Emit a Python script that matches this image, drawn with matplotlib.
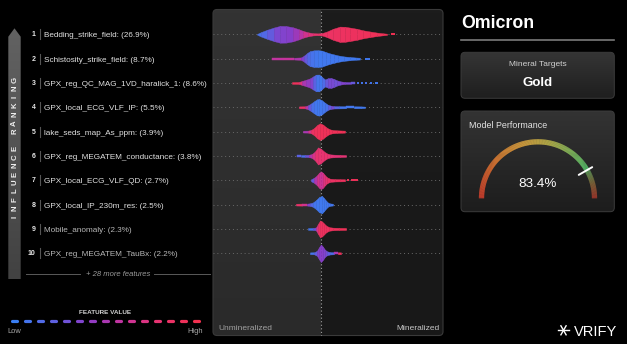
import numpy as np
import matplotlib
matplotlib.use('Agg')
import matplotlib.pyplot as plt
from matplotlib.colors import LinearSegmentedColormap, to_rgb
from matplotlib.patches import FancyBboxPatch, Polygon
from matplotlib.collections import LineCollection

plt.rcParams['font.family'] = ['Liberation Sans', 'DejaVu Sans']

# ── data ─────────────────────────────────────────────────────────────────────
FEATURES = ['Bedding_strike_field', 'Schistosity_strike_field',
            'GPX_reg_QC_MAG_1VD_haralick_1', 'GPX_local_ECG_VLF_IP',
            'lake_seds_map_As_ppm', 'GPX_reg_MEGATEM_conductance',
            'GPX_local_ECG_VLF_QD', 'GPX_local_IP_230m_res',
            'Mobile_anomaly', 'GPX_reg_MEGATEM_TauBx']
IMPORTANCE = [26.9, 8.7, 8.6, 5.5, 3.9, 3.8, 2.7, 2.5, 2.3, 2.2]
N_MORE = 28

# violin outline per feature: SHAP value, density (half width), mean feature value
SHAP_X = [
    [-0.64, -0.60, -0.54, -0.47, -0.41, -0.35, -0.28, -0.22, -0.18, -0.13, -0.08, -0.03,
     0.01, 0.06, 0.12, 0.19, 0.24, 0.29, 0.36, 0.42, 0.49, 0.56, 0.62, 0.66],
    [-0.49, -0.38, -0.27, -0.20, -0.17, -0.14, -0.11, -0.07, -0.03, 0.01, 0.05, 0.09,
     0.13, 0.17, 0.23, 0.29, 0.35, 0.39],
    [-0.29, -0.22, -0.19, -0.15, -0.11, -0.08, -0.05, -0.02, 0.01, 0.04, 0.07, 0.10,
     0.13, 0.16, 0.20, 0.24, 0.30, 0.34],
    [-0.22, -0.16, -0.13, -0.10, -0.07, -0.04, -0.02, 0.01, 0.04, 0.07, 0.10, 0.13,
     0.18, 0.25, 0.33, 0.40, 0.44],
    [-0.18, -0.13, -0.10, -0.07, -0.04, -0.01, 0.02, 0.05, 0.08, 0.11, 0.16, 0.21, 0.24],
    [-0.24, -0.20, -0.16, -0.12, -0.09, -0.06, -0.03, 0.00, 0.03, 0.06, 0.09, 0.13, 0.19, 0.25],
    [-0.10, -0.07, -0.04, -0.02, 0.00, 0.02, 0.04, 0.06, 0.09, 0.14, 0.19, 0.24],
    [-0.25, -0.19, -0.14, -0.11, -0.08, -0.05, -0.02, 0.01, 0.03, 0.05, 0.07, 0.09, 0.12],
    [-0.13, -0.08, -0.05, -0.03, -0.01, 0.01, 0.03, 0.05, 0.08, 0.12, 0.18, 0.25],
    [-0.11, -0.07, -0.04, -0.02, 0.00, 0.02, 0.04, 0.06, 0.09, 0.13, 0.17, 0.20],
]
DENSITY = [
    [0.3, 2.2, 4.5, 6.8, 8.4, 8.3, 7.0, 5.0, 3.4, 2.0, 1.1, 0.9,
     1.2, 2.8, 5.5, 7.7, 7.5, 6.7, 5.5, 4.0, 2.8, 1.7, 1.0, 0.6],
    [0.9, 0.9, 0.9, 1.2, 3.0, 5.5, 7.5, 8.3, 8.4, 8.0, 6.5, 5.2, 4.2, 3.2, 2.2, 1.6, 1.1, 0.9],
    [0.9, 1.0, 2.0, 3.2, 4.6, 6.5, 8.3, 8.4, 6.0, 3.5, 4.8, 5.0, 4.0, 2.6, 1.5, 1.0, 0.9, 0.9],
    [0.9, 1.0, 2.0, 3.8, 6.0, 8.0, 8.3, 7.0, 4.5, 2.5, 1.6, 1.2, 1.1, 1.0, 1.0, 0.9, 0.7],
    [0.9, 1.0, 1.6, 3.5, 6.5, 8.3, 7.0, 4.5, 2.6, 1.7, 1.3, 1.1, 1.0],
    [0.9, 0.9, 1.0, 1.2, 2.0, 4.5, 8.5, 7.2, 4.5, 2.5, 1.6, 1.3, 1.1, 0.9],
    [1.0, 2.5, 5.0, 7.5, 8.8, 7.5, 5.0, 3.0, 1.6, 1.2, 1.1, 1.0],
    [0.9, 1.0, 1.0, 1.3, 2.2, 4.5, 7.5, 8.7, 6.5, 4.0, 2.0, 1.2, 0.9],
    [0.9, 1.0, 1.5, 5.0, 8.3, 7.5, 5.5, 3.5, 1.8, 1.3, 1.1, 1.0],
    [0.9, 1.0, 2.5, 6.0, 8.8, 6.5, 3.5, 2.0, 1.2, 1.0, 1.0, 0.9],
]
FEAT_VAL = [
    [0.08, 0.12, 0.18, 0.30, 0.38, 0.35, 0.42, 0.50, 0.60, 0.70, 0.78, 0.82,
     0.85, 0.86, 0.88, 0.88, 0.90, 0.90, 0.90, 0.92, 0.93, 0.94, 0.95, 0.96],
    [0.55, 0.60, 0.58, 0.45, 0.30, 0.20, 0.10, 0.06, 0.04, 0.04, 0.05, 0.04,
     0.05, 0.04, 0.04, 0.04, 0.04, 0.04],
    [0.95, 0.90, 0.55, 0.45, 0.42, 0.30, 0.10, 0.04, 0.06, 0.20, 0.30, 0.35,
     0.30, 0.28, 0.35, 0.38, 0.30, 0.20],
    [0.95, 0.75, 0.35, 0.15, 0.06, 0.04, 0.04, 0.05, 0.06, 0.10, 0.35, 0.30,
     0.08, 0.05, 0.05, 0.04, 0.04],
    [0.45, 0.55, 0.80, 0.92, 0.93, 0.94, 0.94, 0.94, 0.94, 0.94, 0.95, 0.95, 0.95],
    [0.30, 0.10, 0.12, 0.45, 0.60, 0.78, 0.80, 0.78, 0.80, 0.80, 0.78, 0.75, 0.76, 0.78],
    [0.10, 0.40, 0.65, 0.70, 0.55, 0.70, 0.75, 0.80, 0.85, 0.88, 0.90, 0.90],
    [0.85, 0.82, 0.50, 0.25, 0.08, 0.05, 0.04, 0.04, 0.04, 0.04, 0.05, 0.05, 0.05],
    [0.05, 0.08, 0.50, 0.85, 0.90, 0.90, 0.90, 0.90, 0.90, 0.92, 0.93, 0.95],
    [0.05, 0.10, 0.35, 0.38, 0.40, 0.38, 0.35, 0.30, 0.15, 0.10, 0.90, 0.95],
]
# isolated points beyond the violin tails: (start, end, feature value)
TAILS = [
    [(0.70, 0.74, 0.97)],
    [(0.44, 0.49, 0.04)],
    [(0.36, 0.38, 0.10), (0.40, 0.42, 0.05), (0.44, 0.46, 0.10),
     (0.49, 0.51, 0.05), (0.54, 0.57, 0.05)],
    [], [], [],
    [(0.26, 0.28, 0.95), (0.30, 0.37, 0.93)],
    [], [], [],
]

PROJECT = 'Omicron'
TARGET = 'Gold'
SCORE = 83.4

FV_COLORS = ['#3a7ef2', '#5a62e2', '#8a3cc8', '#c8339a', '#e8336e', '#f2304f']
GAUGE_COLORS = ['#e0402e', '#e8662f', '#ec8e36', '#eaae40', '#cbc04c', '#8ec860', '#55c870']
GAUGE_REST = ['#5aa860', '#8a6a3a', '#b2382c']

cmap = LinearSegmentedColormap.from_list('fv', FV_COLORS)
gcmap = LinearSegmentedColormap.from_list('gauge', GAUGE_COLORS)
rcmap = LinearSegmentedColormap.from_list('rest', GAUGE_REST)

# ── layout (pixels) ──────────────────────────────────────────────────────────
W, H = 627, 344
PX0, PX1, PY0, PY1, XC = 213, 443, 9.5, 335.5, 321
ROW0, ROW_H = 34.3, 24.33
S = 100.0   # px per SHAP unit

fig = plt.figure(figsize=(W / 100, H / 100), dpi=100, facecolor='black')
bg = fig.add_axes([0, 0, 1, 1])
bg.set_facecolor('black')
bg.axis('off')


def grad_patch(patch, c_top, c_bot, extent, z):
    bg.add_patch(patch)
    g = np.linspace(0, 1, 64)[:, None]
    cm = LinearSegmentedColormap.from_list('g', [c_top, c_bot])
    im = bg.imshow(g, cmap=cm, extent=extent, aspect='auto', zorder=z,
                   interpolation='bilinear')
    im.set_clip_path(patch)


# panel with light (left) / dark (right) halves
panel = FancyBboxPatch((PX0, PY0), PX1 - PX0, PY1 - PY0,
                       boxstyle='round,pad=0,rounding_size=4',
                       fc='none', ec='#3a3a3a', lw=0.8, zorder=2)
bg.add_patch(panel)
ny, nx = 80, PX1 - PX0
tt = np.linspace(0, 1, ny)[:, None, None]
left = (1 - tt) * np.array(to_rgb('#333333')) + tt * np.array(to_rgb('#2a2a2a'))
right = (1 - tt) * np.array(to_rgb('#1c1c1c')) + tt * np.array(to_rgb('#181818'))
img = np.where((np.arange(nx) < XC - PX0)[None, :, None], left, right)
im = bg.imshow(img, extent=[PX0, PX1, PY1, PY0], aspect='auto', zorder=1,
               interpolation='nearest')
im.set_clip_path(panel)
bg.text(218, 330.5, 'Unmineralized', fontsize=6.0, color='#a0a0a0', va='baseline', zorder=3)
bg.text(439.5, 330.5, 'Mineralized', fontsize=6.0, color='#c8c8c8', va='baseline',
        ha='right', zorder=3)

# influence ranking arrow
arrow = Polygon([(8.3, 279), (8.3, 36.7), (14.5, 28.3), (20.7, 36.7), (20.7, 279)],
                closed=True, fc='none', ec='none')
grad_patch(arrow, '#626262', '#424242', [8, 21, 279, 28], 1)
label = 'INFLUENCE RANKING'
for j, ch in enumerate(label):
    bg.text(14.8, 216.7 - j * 8.54, ch, rotation=90, ha='center', va='center',
            fontsize=5.6, weight='bold', color='#f0f0f0', zorder=3)

# feature labels
for i, (name, imp) in enumerate(zip(FEATURES, IMPORTANCE)):
    y = ROW0 + i * ROW_H
    col = '#e2e2e2' if i < 8 else '#b8b8b8'
    bg.text(35.5, y + 2.0, str(i + 1), ha='right', va='baseline', fontsize=5.0,
            weight='bold', color='#e8e8e8')
    bg.plot([40, 40], [y - 5, y + 5], color='#555555', lw=0.8)
    bg.text(44.3, y + 3.0, f'{name}: ({imp}%)', ha='left', va='baseline',
            fontsize=5.9, color=col)

# more features separator
bg.plot([26, 80], [274.3, 274.3], color='#5a5a5a', lw=0.7)
bg.plot([154, 210], [274.3, 274.3], color='#5a5a5a', lw=0.7)
bg.text(118, 276.3, f'+ {N_MORE} more features', ha='center', va='baseline',
        fontsize=5.5, style='italic', color='#9a9a9a')

# feature value legend
bg.text(105.5, 313.5, 'FEATURE VALUE', ha='center', va='baseline', fontsize=4.6,
        weight='bold', color='#d0d0d0')
for k, fv in enumerate(np.linspace(0, 1, 15)):
    cx = 14.5 + k * 13
    bg.plot([cx - 2.6, cx + 2.6], [320.7, 320.7], color=cmap(fv), lw=2.3,
            solid_capstyle='round')
bg.text(7.3, 333, 'Low', fontsize=5.4, color='#a8a8a8', va='baseline')
bg.text(203, 333, 'High', fontsize=5.4, color='#a8a8a8', va='baseline', ha='right')

# right column
bg.text(461.7, 28.3, PROJECT, fontsize=12.8, weight='bold', color='white', va='baseline')
bg.plot([461, 614.3], [40, 40], color='#7a7a7a', lw=1.2)

box1 = FancyBboxPatch((461, 52.3), 153.3, 46, boxstyle='round,pad=0,rounding_size=4',
                      fc='none', ec='#3c3c3c', lw=0.7, zorder=2)
grad_patch(box1, '#353535', '#1f1f1f', [461, 614.3, 98.3, 52.3], 1)
bg.text(537.7, 66.5, 'Mineral Targets', ha='center', va='baseline', fontsize=6.0,
        color='#d0d0d0', zorder=3)
bg.text(537.7, 86, TARGET, ha='center', va='baseline', fontsize=9.5, weight='bold',
        color='white', zorder=3)

box2 = FancyBboxPatch((461, 111), 153.3, 100.7, boxstyle='round,pad=0,rounding_size=4',
                      fc='none', ec='#3c3c3c', lw=0.7, zorder=2)
grad_patch(box2, '#333333', '#1d1d1d', [461, 614.3, 211.7, 111], 1)
bg.text(469, 127.5, 'Model Performance', va='baseline', fontsize=6.4,
        color='#e4e4e4', zorder=3)

# gauge
gx, gy, gr = 538, 198.3, 56.5
frac = SCORE / 100
f = np.linspace(0, 1, 241)
th = np.pi * (1 - f)
pts = np.column_stack([gx + gr * np.cos(th), gy - gr * np.sin(th)])
segs = np.stack([pts[:-1], pts[1:]], axis=1)
fm = 0.5 * (f[:-1] + f[1:])
cols = [gcmap(v / frac) if v <= frac else rcmap((v - frac) / (1 - frac)) for v in fm]
lc = LineCollection(segs, colors=cols, linewidths=3.8, capstyle='butt', zorder=3)
bg.add_collection(lc)
tm = np.pi * (1 - frac)
bg.plot([gx + 47 * np.cos(tm), gx + 62.5 * np.cos(tm)],
        [gy - 47 * np.sin(tm), gy - 62.5 * np.sin(tm)],
        color='white', lw=1.4, solid_capstyle='round', zorder=4)
bg.text(537.5, 186.7, f'{SCORE}%', ha='center', va='baseline', fontsize=9.7,
        color='white', zorder=4)

# brand mark
lx, ly, lr = 563.5, 330.3, 5.2
for a in (0, 60, 120):
    ra = np.deg2rad(a)
    bg.plot([lx - lr * np.cos(ra), lx + lr * np.cos(ra)],
            [ly - lr * np.sin(ra), ly + lr * np.sin(ra)], color='white', lw=1.0)
bg.text(573.5, 335.5, 'VRIFY', fontsize=10.5, color='white', va='baseline')

bg.set_xlim(0, W)
bg.set_ylim(H, 0)

# ── violin panel ─────────────────────────────────────────────────────────────
ax = fig.add_axes([PX0 / W, 1 - PY1 / H, (PX1 - PX0) / W, (PY1 - PY0) / H])
ax.patch.set_alpha(0)
ax.axis('off')
for i in range(len(FEATURES)):
    ax.axhline(i, color='#6a6a6a', lw=0.7, ls=(0, (1, 3)), zorder=1)
ax.axvline(0, color='#a0a0a0', lw=0.8, ls=(0, (1, 2.2)), zorder=2)

for i, (xs, ds, fvs) in enumerate(zip(SHAP_X, DENSITY, FEAT_VAL)):
    xs = np.asarray(xs)
    hw = np.asarray(ds) / ROW_H
    for k in range(len(xs) - 1):
        c = cmap(0.5 * (fvs[k] + fvs[k + 1]))
        ax.fill_between(xs[k:k + 2], i - hw[k:k + 2], i + hw[k:k + 2],
                        color=c, ec=c, lw=0.3, zorder=3)
    for x0, x1, fv in TAILS[i]:
        ax.plot([x0, x1], [i, i], color=cmap(fv), lw=1.4, solid_capstyle='butt', zorder=3)

ax.set_xlim((PX0 - XC) / S, (PX1 - XC) / S)
ax.set_ylim((PY1 - ROW0) / ROW_H, (PY0 - ROW0) / ROW_H)

fig.savefig('out.png', dpi=100, facecolor='black')
